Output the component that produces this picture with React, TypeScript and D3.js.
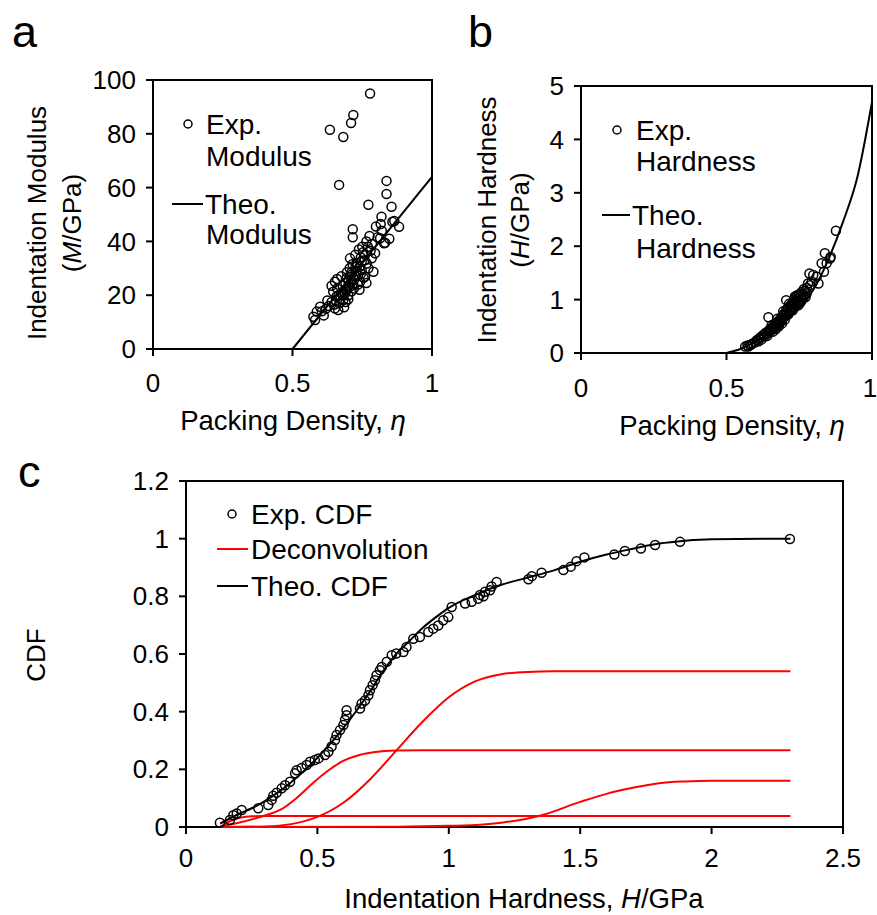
import React from "react";
import * as d3 from "d3";

// ---------- Panel a: modulus vs packing density ----------
const modEta = [0.778,0.718,0.710,0.634,0.682,0.667,0.837,0.837,0.772,0.855,0.819,0.865,0.816,0.799,0.882,0.716,0.716,0.858,0.847,0.828,0.832,0.814,0.706,0.796,0.784,0.766,0.748,0.790,0.760,0.753,0.770,0.745,0.730,0.740,0.735,0.728,0.722,0.742,0.718,0.710,0.700,0.705,0.712,0.695,0.690,0.700,0.688,0.680,0.675,0.672,0.665,0.660,0.652,0.646,0.658,0.682,0.652,0.668,0.690,0.640,0.630,0.620,0.599,0.587,0.575,0.581,0.605,0.612,0.625,0.640,0.660,0.675,0.695,0.705,0.715,0.725,0.738,0.750,0.765,0.776,0.785,0.805,0.820,0.758,0.772,0.780,0.735,0.720,0.745,0.755,0.740,0.700,0.685,0.664,0.650,0.695,0.710,0.725,0.765,0.680,0.690,0.700,0.732,0.748,0.760,0.712,0.726];
const modVal = [95,87,84,81.5,78.8,61,62.5,57.6,53.6,52.9,49.2,47.6,46.5,45.5,45.4,44.5,41.5,47.3,41,39.3,39.5,41.2,33.7,35.6,33.7,31.8,29.4,28.7,26.9,36,38,34,32,30.5,27.5,29,26,25,24,27.5,25.5,23,21.5,22,24.5,20,20.5,23.5,21,18.5,20,22.5,25,21.3,19.5,18.2,15.1,17,17.5,17.5,16,15,15.7,13.9,12,10.8,14,12.5,18,23.5,26,27,28.5,30,31.5,35,37,38,40,42,39,41.5,44,33,30,36.5,24,22.5,28,26.5,22,18.5,15.5,14.5,16.5,26.5,25,27,24.5,20,22,23.5,31,32.5,35,28.5,30.5];
const modTheoEta = [0.5, 1.0];
const modTheoVal = [0, 64];
const modYTicks = [0, 20, 40, 60, 80, 100];
const etaTicks = [0, 0.5, 1];

// ---------- Panel b: hardness vs packing density ----------
const hardEta = [0.876,0.838,0.856,0.827,0.844,0.835,0.858,0.785,0.798,0.793,0.816,0.787,0.810,0.644,0.564,0.581,0.572,0.590,0.598,0.604,0.612,0.618,0.626,0.630,0.635,0.640,0.645,0.650,0.652,0.658,0.660,0.665,0.668,0.672,0.675,0.678,0.682,0.685,0.688,0.690,0.693,0.696,0.699,0.702,0.705,0.707,0.710,0.712,0.715,0.718,0.720,0.723,0.725,0.728,0.730,0.733,0.736,0.738,0.740,0.743,0.746,0.748,0.750,0.752,0.755,0.758,0.760,0.763,0.766,0.770,0.772,0.776,0.780,0.705,0.776,0.660,0.670,0.680,0.690,0.700,0.620,0.640,0.655,0.675,0.695,0.715,0.735,0.755,0.765,0.728,0.740,0.610,0.585,0.575];
const hardVal = [2.29,1.87,1.77,1.68,1.68,1.52,1.80,1.49,1.46,1.34,1.30,1.27,1.43,0.67,0.12,0.15,0.14,0.18,0.20,0.24,0.27,0.30,0.34,0.31,0.38,0.36,0.42,0.40,0.46,0.44,0.50,0.48,0.55,0.52,0.58,0.54,0.62,0.58,0.66,0.62,0.70,0.66,0.74,0.70,0.80,0.76,0.84,0.72,0.78,0.88,0.82,0.92,0.86,0.96,0.90,1.00,0.94,1.05,0.98,1.08,1.02,0.90,1.10,0.96,1.06,1.14,1.00,1.10,1.20,1.16,1.05,1.22,1.30,0.99,1.12,0.40,0.45,0.50,0.55,0.62,0.25,0.32,0.52,0.64,0.78,0.92,1.06,0.95,1.04,0.80,0.88,0.22,0.16,0.12];
const hardTheoEta = [0.5,0.55,0.6,0.65,0.7,0.75,0.8,0.85,0.9,0.95,1.0];
const hardTheoVal = [0,0.08,0.22,0.38,0.58,0.85,1.2,1.75,2.45,3.3,4.7];
const hardYTicks = [0, 1, 2, 3, 4, 5];

// ---------- Panel c: CDF ----------
const cdfExpH = [0.129,0.167,0.18,0.193,0.212,0.275,0.313,0.326,0.332,0.345,0.364,0.377,0.396,0.415,0.421,0.44,0.459,0.472,0.49,0.504,0.529,0.542,0.554,0.567,0.573,0.586,0.599,0.605,0.611,0.611,0.662,0.668,0.681,0.694,0.7,0.71,0.719,0.725,0.738,0.745,0.764,0.783,0.80,0.827,0.839,0.865,0.89,0.922,0.941,0.96,0.979,0.998,1.011,1.062,1.087,1.112,1.119,1.132,1.138,1.157,1.163,1.182,1.303,1.316,1.353,1.436,1.464,1.486,1.516,1.63,1.67,1.731,1.785,1.88,2.298];
const cdfExpVal = [0.015,0.024,0.041,0.047,0.059,0.065,0.076,0.094,0.108,0.119,0.134,0.145,0.157,0.186,0.197,0.205,0.215,0.226,0.232,0.238,0.25,0.261,0.279,0.302,0.319,0.336,0.354,0.371,0.388,0.405,0.411,0.428,0.439,0.457,0.474,0.492,0.509,0.526,0.544,0.555,0.573,0.596,0.602,0.607,0.624,0.653,0.659,0.676,0.688,0.699,0.717,0.728,0.763,0.775,0.781,0.792,0.805,0.8,0.816,0.821,0.834,0.85,0.859,0.87,0.882,0.891,0.903,0.922,0.935,0.945,0.957,0.966,0.978,0.989,0.999];
const cdfTheoH = [0.13,0.2,0.25,0.3,0.35,0.4,0.45,0.5,0.55,0.6,0.65,0.7,0.75,0.8,0.85,0.9,0.95,1.0,1.1,1.2,1.3,1.4,1.5,1.6,1.7,1.8,1.9,2.0,2.3];
const cdfTheoVal = [0.012,0.045,0.065,0.09,0.12,0.155,0.195,0.24,0.29,0.345,0.405,0.47,0.54,0.6,0.645,0.69,0.727,0.76,0.805,0.84,0.865,0.89,0.92,0.945,0.965,0.983,0.993,0.998,1.0];
const dec1H = [0.13,0.15,0.18,0.21,0.25,0.3,2.3];
const dec1Val = [0.0,0.012,0.025,0.033,0.037,0.038,0.038];
const dec2H = [0.13,0.2,0.3,0.36,0.42,0.48,0.54,0.6,0.66,0.72,0.8,0.9,2.3];
const dec2Val = [0.003,0.015,0.04,0.06,0.1,0.15,0.195,0.23,0.25,0.26,0.265,0.266,0.266];
const dec3H = [0.13,0.3,0.4,0.5,0.6,0.7,0.8,0.9,1.0,1.1,1.2,1.3,1.4,2.3];
const dec3Val = [0,0.002,0.01,0.035,0.085,0.165,0.265,0.365,0.45,0.505,0.53,0.538,0.54,0.54];
const dec4H = [0.13,0.8,1.0,1.12,1.2,1.35,1.5,1.6,1.7,1.8,1.9,2.0,2.3];
const dec4Val = [0,0.001,0.004,0.008,0.015,0.04,0.087,0.115,0.136,0.152,0.158,0.16,0.16];
const cdfXTicks = [0, 0.5, 1, 1.5, 2, 2.5];
const cdfYTicks = [0, 0.2, 0.4, 0.6, 0.8, 1, 1.2];

const FONT = "'Liberation Sans', Arial, sans-serif";
const FS = 26;   // tick labels, y titles
const FT = 27.5; // x titles
const FL = 28;   // legends

type Pt = [number, number];
const zip = (a: number[], b: number[]): Pt[] => a.map((v, i) => [v, b[i]]);

function Frame({ x, y, xTicks, yTicks, fmt, xLabOff, lastShift = 0 }: any) {
  const [x0, x1] = x.range();
  const [y0, y1] = y.range();
  return (
    <g>
      <rect x={x0} y={y1} width={x1 - x0} height={y0 - y1} fill="none" stroke="#000" strokeWidth={2} />
      {xTicks.map((t: number, i: number) => (
        <g key={"x" + t}>
          <line x1={x(t)} x2={x(t)} y1={y0} y2={y0 + 7} stroke="#000" strokeWidth={2} />
          <text x={x(t) + (i === xTicks.length - 1 ? lastShift : 0)} y={y0 + xLabOff} textAnchor="middle" fontSize={FS} fontFamily={FONT}>{fmt(t)}</text>
        </g>
      ))}
      {yTicks.map((t: number) => (
        <g key={"y" + t}>
          <line x1={x0 - 7} x2={x0} y1={y(t)} y2={y(t)} stroke="#000" strokeWidth={2} />
          <text x={x0 - 17} y={y(t)} dy="0.35em" textAnchor="end" fontSize={FS} fontFamily={FONT}>{fmt(t)}</text>
        </g>
      ))}
    </g>
  );
}

export default function App() {
  const fmt = (t: number) => String(t);

  // panel a
  const xa = d3.scaleLinear().domain([0, 1]).range([153, 432]);
  const ya = d3.scaleLinear().domain([0, 100]).range([349, 80]);
  const lineA = d3.line<Pt>().x(d => xa(d[0])).y(d => ya(d[1]));

  // panel b
  const xb = d3.scaleLinear().domain([0, 1]).range([581, 872]);
  const yb = d3.scaleLinear().domain([0, 5]).range([353, 86]);
  const lineB = d3.line<Pt>().x(d => xb(d[0])).y(d => yb(d[1])).curve(d3.curveMonotoneX);

  // panel c
  const xc = d3.scaleLinear().domain([0, 2.5]).range([186, 843]);
  const yc = d3.scaleLinear().domain([0, 1.2]).range([827, 481]);
  const lineC = d3.line<Pt>().x(d => xc(d[0])).y(d => yc(d[1])).curve(d3.curveMonotoneX);

  const decs = [zip(dec1H, dec1Val), zip(dec2H, dec2Val), zip(dec3H, dec3Val), zip(dec4H, dec4Val)];

  return (
    <svg width={877} height={915} style={{ position: "absolute", left: 0, top: 0, background: "#fff" }} fontFamily={FONT}>
      <rect width={877} height={915} fill="#fff" />
      {/* panel letters */}
      <text x={12} y={47} fontSize={45} fontFamily={FONT}>a</text>
      <text x={468} y={47} fontSize={45} fontFamily={FONT}>b</text>
      <text x={18} y={487} fontSize={45} fontFamily={FONT}>c</text>

      {/* ===== Panel a ===== */}
      <Frame x={xa} y={ya} xTicks={etaTicks} yTicks={modYTicks} fmt={fmt} xLabOff={43} />
      <path d={lineA(zip(modTheoEta, modTheoVal)) || ""} fill="none" stroke="#000" strokeWidth={2} />
      {zip(modEta, modVal).map((d, i) => (
        <circle key={i} cx={xa(d[0])} cy={ya(d[1])} r={4.5} fill="none" stroke="#000" strokeWidth={1.5} />
      ))}
      <circle cx={188} cy={124} r={4} fill="none" stroke="#000" strokeWidth={1.5} />
      <text x={206} y={124} dy="0.35em" fontSize={FL}>Exp.</text>
      <text x={206} y={156} dy="0.35em" fontSize={FL}>Modulus</text>
      <line x1={172} x2={203} y1={204} y2={204} stroke="#000" strokeWidth={2} />
      <text x={205} y={204} dy="0.35em" fontSize={FL}>Theo.</text>
      <text x={206} y={234} dy="0.35em" fontSize={FL}>Modulus</text>
      <text x={293} y={420} dy="0.35em" textAnchor="middle" fontSize={FT}>
        Packing Density, <tspan fontStyle="italic">η</tspan>
      </text>
      <text transform="translate(37,223) rotate(-90)" dy="0.35em" textAnchor="middle" fontSize={FS}>Indentation Modulus</text>
      <text transform="translate(72,223) rotate(-90)" dy="0.35em" textAnchor="middle" fontSize={FS}>
        (<tspan fontStyle="italic">M</tspan>/GPa)
      </text>

      {/* ===== Panel b ===== */}
      <Frame x={xb} y={yb} xTicks={etaTicks} yTicks={hardYTicks} fmt={fmt} xLabOff={44} lastShift={-2} />
      <path d={lineB(zip(hardTheoEta, hardTheoVal)) || ""} fill="none" stroke="#000" strokeWidth={2} />
      {zip(hardEta, hardVal).map((d, i) => (
        <circle key={i} cx={xb(d[0])} cy={yb(d[1])} r={4.5} fill="none" stroke="#000" strokeWidth={1.5} />
      ))}
      <circle cx={617} cy={130} r={4} fill="none" stroke="#000" strokeWidth={1.5} />
      <text x={636} y={130} dy="0.35em" fontSize={FL}>Exp.</text>
      <text x={636} y={161} dy="0.35em" fontSize={FL}>Hardness</text>
      <line x1={602} x2={630} y1={215} y2={215} stroke="#000" strokeWidth={2} />
      <text x={632} y={215} dy="0.35em" fontSize={FL}>Theo.</text>
      <text x={636} y={248} dy="0.35em" fontSize={FL}>Hardness</text>
      <text x={732} y={425} dy="0.35em" textAnchor="middle" fontSize={FT}>
        Packing Density, <tspan fontStyle="italic">η</tspan>
      </text>
      <text transform="translate(487,220) rotate(-90)" dy="0.35em" textAnchor="middle" fontSize={FS}>Indentation Hardness</text>
      <text transform="translate(520,220) rotate(-90)" dy="0.35em" textAnchor="middle" fontSize={FS}>
        (<tspan fontStyle="italic">H</tspan>/GPa)
      </text>

      {/* ===== Panel c ===== */}
      <Frame x={xc} y={yc} xTicks={cdfXTicks} yTicks={cdfYTicks} fmt={fmt} xLabOff={40} />
      {decs.map((dd, i) => (
        <path key={i} d={lineC(dd) || ""} fill="none" stroke="#ff0000" strokeWidth={2} />
      ))}
      <path d={lineC(zip(cdfTheoH, cdfTheoVal)) || ""} fill="none" stroke="#000" strokeWidth={2} />
      {zip(cdfExpH, cdfExpVal).map((d, i) => (
        <circle key={i} cx={xc(d[0])} cy={yc(d[1])} r={4.5} fill="none" stroke="#000" strokeWidth={1.5} />
      ))}
      <circle cx={232} cy={514} r={4} fill="none" stroke="#000" strokeWidth={1.5} />
      <text x={251} y={514} dy="0.35em" fontSize={FL}>Exp. CDF</text>
      <line x1={217} x2={248} y1={549} y2={549} stroke="#ff0000" strokeWidth={2} />
      <text x={251} y={549} dy="0.35em" fontSize={FL}>Deconvolution</text>
      <line x1={217} x2={248} y1={586} y2={586} stroke="#000" strokeWidth={2} />
      <text x={251} y={586} dy="0.35em" fontSize={FL}>Theo. CDF</text>
      <text x={524} y={898} dy="0.35em" textAnchor="middle" fontSize={FT}>
        Indentation Hardness, <tspan fontStyle="italic">H</tspan>/GPa
      </text>
      <text transform="translate(36,655) rotate(-90)" dy="0.35em" textAnchor="middle" fontSize={FS}>CDF</text>
    </svg>
  );
}
